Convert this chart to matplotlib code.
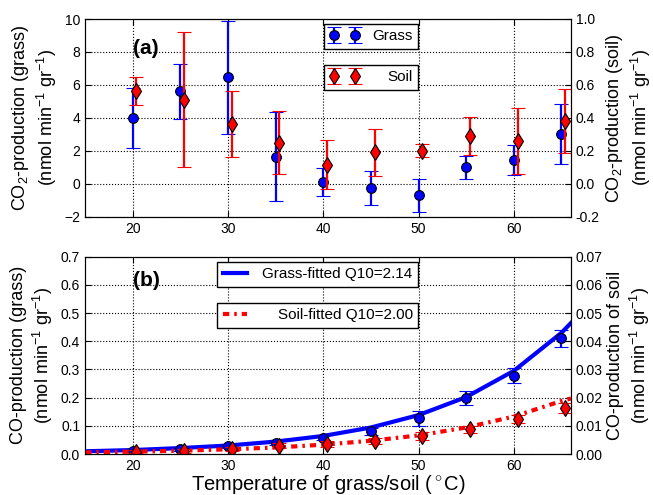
import numpy as np
import matplotlib
matplotlib.use("Agg")
import matplotlib.pyplot as plt

plt.rcParams['font.family'] = ['Liberation Sans', 'DejaVu Sans']
plt.rcParams['mathtext.fontset'] = 'custom'
plt.rcParams['mathtext.rm'] = 'Liberation Sans'
plt.rcParams['mathtext.it'] = 'Liberation Sans'

# temperatures (deg C)
temp = [20, 25, 30, 35, 40, 45, 50, 55, 60, 65]
soil_shift = 0.4

# (a) CO2 production
co2_grass = [4.0, 5.6, 6.45, 1.65, 0.1, -0.27, -0.7, 1.0, 1.46, 3.02]
co2_grass_err = [1.8, 1.65, 3.4, 2.7, 0.87, 1.05, 1.0, 0.7, 0.9, 1.8]
co2_soil = [0.565, 0.51, 0.36, 0.25, 0.115, 0.19, 0.20, 0.29, 0.26, 0.38]
co2_soil_err = [0.085, 0.41, 0.20, 0.19, 0.148, 0.14, 0.04, 0.115, 0.20, 0.195]

# (b) CO production
co_grass = [0.012, 0.018, 0.027, 0.040, 0.058, 0.080, 0.126, 0.200, 0.278, 0.410]
co_grass_err = [0.005, 0.006, 0.007, 0.008, 0.009, 0.012, 0.027, 0.025, 0.027, 0.030]
co_soil = [0.0008, 0.0012, 0.0017, 0.0030, 0.0036, 0.0046, 0.0063, 0.0088, 0.0124, 0.0162]
co_soil_err = [0.0006, 0.0007, 0.0008, 0.0010, 0.0010, 0.0012, 0.0015, 0.0012, 0.0015, 0.0018]

# fitted curves
fit_temp = [15, 20, 25, 30, 35, 40, 45, 50, 55, 60, 65, 66]
fit_grass = [0.0096, 0.014, 0.021, 0.030, 0.044, 0.064, 0.094, 0.138, 0.202, 0.295, 0.43, 0.465]
fit_soil = [0.00058, 0.00083, 0.00117, 0.00166, 0.0023, 0.0033, 0.0047, 0.0066, 0.0094, 0.0133, 0.0188, 0.0197]

xticks = [20, 30, 40, 50, 60]

fig = plt.figure(figsize=(6.53, 4.95), dpi=100)
W, H = 653, 495
L, R = 85 / W, 571 / W
ax_a = fig.add_axes([L, 1 - 216.7 / H, R - L, (216.7 - 19) / H])
ax_b = fig.add_axes([L, 1 - 454 / H, R - L, (454 - 256.7) / H])

soil_x = [t + soil_shift for t in temp]
eb_grass = dict(fmt='o', color='blue', ecolor='blue', mfc='blue', mec='black',
                ms=7, elinewidth=1.6, capsize=5, capthick=1.4, mew=0.8)
eb_soil = dict(fmt='d', color='red', ecolor='red', mfc='red', mec='black',
               ms=8, elinewidth=1.6, capsize=5, capthick=1.4, mew=0.8)


def style(ax, ax2):
    for a in (ax, ax2):
        a.tick_params(direction='in', labelsize=10, length=4)
        a.set_xlim(15, 66)
    ax.tick_params(top=True)
    ax.set_xticks(xticks)
    ax.grid(True, color='black', linestyle=':', linewidth=0.8)


# panel (a)
ax2_a = ax_a.twinx()
ax_a.errorbar(temp, co2_grass, yerr=co2_grass_err, label='Grass', **eb_grass)
ax2_a.errorbar(soil_x, co2_soil, yerr=co2_soil_err, label='Soil', **eb_soil)
ax_a.set_ylim(-2, 10)
ax_a.set_yticks(range(-2, 11, 2))
ax2_a.set_ylim(-0.2, 1.0)
ax2_a.set_yticks(np.arange(-0.2, 1.01, 0.2))
ax2_a.set_yticklabels(['-0.2', '0.0', '0.2', '0.4', '0.6', '0.8', '1.0'])
style(ax_a, ax2_a)
ax_a.set_ylabel('CO$_2$-production (grass)\n(nmol min$^{-1}$ gr$^{-1}$)', fontsize=13, labelpad=4)
ax2_a.set_ylabel('CO$_2$-production (soil)\n(nmol min$^{-1}$ gr$^{-1}$)', fontsize=13,
                 rotation=90, labelpad=3)
ax_a.text(0.098, 0.853, '(a)', transform=ax_a.transAxes, fontsize=15,
          fontweight='bold', va='center')

leg_kw = dict(fontsize=11, fancybox=False, edgecolor='black', framealpha=1,
              borderaxespad=0, numpoints=2, borderpad=0.35)
lg1 = ax_a.legend(loc='upper right', bbox_to_anchor=(418 / W, 1 - 24 / H),
                  bbox_transform=fig.transFigure, handletextpad=0.8, **leg_kw)
lg1.get_frame().set_linewidth(1.0)
lg2 = ax2_a.legend(loc='upper right', bbox_to_anchor=(418 / W, 1 - 65 / H),
                   bbox_transform=fig.transFigure, handletextpad=1.8, **leg_kw)
lg2.get_frame().set_linewidth(1.0)

# panel (b)
ax2_b = ax_b.twinx()
ax_b.errorbar(temp, co_grass, yerr=co_grass_err, **eb_grass)
ax2_b.errorbar(soil_x, co_soil, yerr=co_soil_err, **eb_soil)
ax_b.plot(fit_temp, fit_grass, color='blue', lw=3, label='Grass-fitted Q10=2.14')
ax2_b.plot(fit_temp, fit_soil, color='red', lw=3, linestyle=(0, (1.5, 1.2, 0.6, 1.2)),
           label='Soil-fitted Q10=2.00')
ax_b.set_ylim(0, 0.7)
ax_b.set_yticks(np.arange(0, 0.71, 0.1))
ax_b.set_yticklabels(['0.0', '0.1', '0.2', '0.3', '0.4', '0.5', '0.6', '0.7'])
ax2_b.set_ylim(0, 0.07)
ax2_b.set_yticks(np.arange(0, 0.071, 0.01))
ax2_b.set_yticklabels(['0.00', '0.01', '0.02', '0.03', '0.04', '0.05', '0.06', '0.07'])
style(ax_b, ax2_b)
ax_b.set_ylabel('CO-production (grass)\n(nmol min$^{-1}$ gr$^{-1}$)', fontsize=13, labelpad=4)
ax2_b.set_ylabel('CO-production of soil\n(nmol min$^{-1}$ gr$^{-1}$)', fontsize=13,
                 rotation=90, labelpad=3)
ax_b.set_xlabel('Temperature of grass/soil ($^\\circ$C)', fontsize=14.5, labelpad=0)
ax_b.text(0.098, 0.878, '(b)', transform=ax_b.transAxes, fontsize=15,
          fontweight='bold', va='center')

leg_kw2 = dict(fontsize=11, fancybox=False, edgecolor='black', framealpha=1,
               borderaxespad=0, handlelength=1.6, borderpad=0.35)
lg3 = ax_b.legend(loc='upper right', bbox_to_anchor=(418 / W, 1 - 262 / H),
                  bbox_transform=fig.transFigure, handletextpad=1.0, **leg_kw2)
lg3.get_frame().set_linewidth(1.0)
lg4 = ax2_b.legend(loc='upper right', bbox_to_anchor=(418 / W, 1 - 303 / H),
                   bbox_transform=fig.transFigure, handletextpad=2.0, **leg_kw2)
lg4.get_frame().set_linewidth(1.0)

fig.savefig('out.png', dpi=100)
